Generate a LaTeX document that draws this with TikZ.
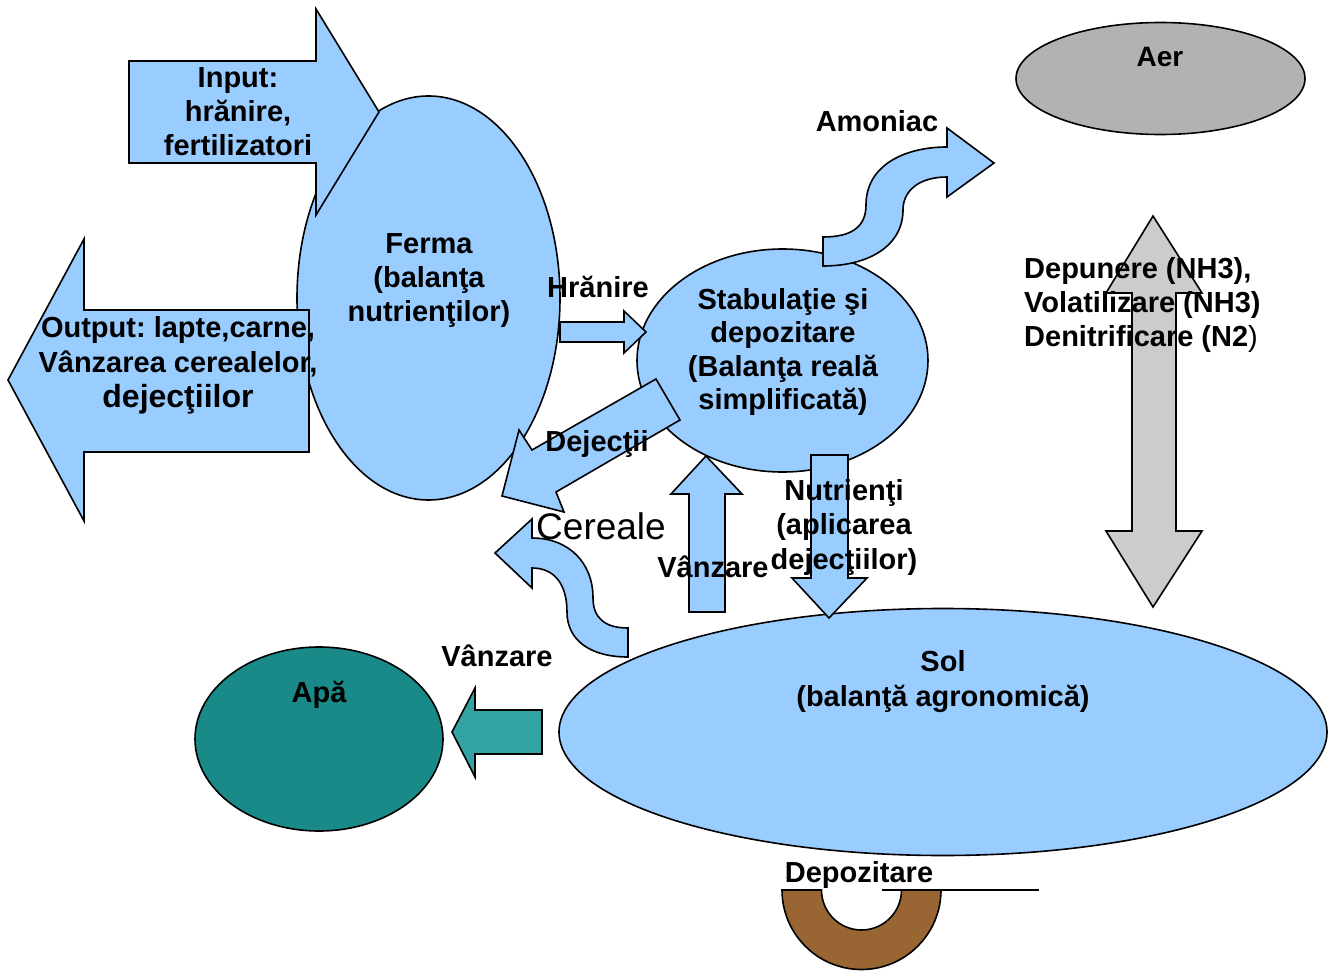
\documentclass[tikz,border=0pt]{standalone}
\usepackage{fontspec}
\setmainfont{Liberation Sans}
\usetikzlibrary{shapes.geometric}
\definecolor{lblue}{HTML}{99CCFF}
\definecolor{aergray}{HTML}{B2B2B2}
\definecolor{arrgray}{HTML}{CCCCCC}
\definecolor{apateal}{HTML}{198A88}
\definecolor{arrteal}{HTML}{33A3A3}
\definecolor{soilbrown}{HTML}{996633}
\frenchspacing
\begin{document}
\begin{tikzpicture}[x=1pt,y=-1pt,
  shapeline/.style={draw=black, line width=1.6pt, line join=miter},
  blob/.style={ellipse, shapeline, inner sep=0pt, outer sep=0pt},
  blockarrow/.style={shapeline, fill=lblue},
  lbl/.style={inner sep=0pt, align=center, anchor=north, font=\fontsize{29}{34}\selectfont\bfseries},
]
\fill[white] (0,0) rectangle (1334,971);
\useasboundingbox (0,0) rectangle (1334,971);

% ellipses
\node[blob, fill=lblue, minimum width=263pt, minimum height=404pt] (ferma) at (428.5,298) {};
\draw[blockarrow] (129,61) -- (316,61) -- (316,9) -- (379,112) -- (316,215) -- (316,163) -- (129,163) -- cycle;
\draw[blockarrow] (309,310) -- (84,310) -- (84,239) -- (8,380) -- (84,521) -- (84,452) -- (309,452) -- cycle;
\node[blob, fill=lblue, minimum width=291pt, minimum height=223pt] (stab) at (782.5,360.5) {};
\node[blob, fill=aergray, minimum width=289pt, minimum height=112pt] (aer) at (1160.5,78.5) {};
\node[blob, fill=lblue, minimum width=768pt, minimum height=247pt] (sol) at (943,732) {};
\node[blob, fill=apateal, minimum width=248pt, minimum height=184pt] (apa) at (319,739) {};

% block arrows
\draw[blockarrow] (560,322) -- (624,322) -- (624,311) -- (646,332) -- (624,353) -- (624,342) -- (560,342) -- cycle;
\draw[blockarrow] (656,379) -- (532,450) -- (519,430) -- (502,496) -- (564,512) -- (556,492) -- (680,420) -- cycle;
\draw[blockarrow] (823,237) .. controls (850,237) and (866,228) .. (866,205)
  .. controls (866,165) and (905,147) .. (947,147) -- (947,128) -- (994,163) -- (947,197) -- (947,177)
  .. controls (920,177) and (903,190) .. (903,210)
  .. controls (903,245) and (870,266) .. (823,266) -- cycle;
\draw[blockarrow] (689,612) -- (689,494) -- (671,494) -- (706,456) -- (742,494) -- (725,494) -- (725,612) -- cycle;
\draw[blockarrow] (811,455) -- (848,455) -- (848,578) -- (867,578) -- (829,618) -- (792,578) -- (811,578) -- cycle;
\draw[blockarrow] (532,538) .. controls (568,538) and (593,562) .. (593,598)
  .. controls (593,618) and (605,628) .. (628,628) -- (628,657)
  .. controls (590,657) and (567,640) .. (567,612)
  .. controls (567,585) and (555,568) .. (532,568) -- (532,588) -- (495,553) -- (532,519) -- cycle;
\draw[shapeline, fill=arrteal] (542,710) -- (475,710) -- (475,688) -- (452,732) -- (475,777) -- (475,754) -- (542,754) -- cycle;
\draw[shapeline, fill=arrgray] (1132,293) -- (1106,293) -- (1153,216) -- (1202,293) -- (1176,293) -- (1176,531) -- (1202,531) -- (1153,607) -- (1106,531) -- (1132,531) -- cycle;

% storage ring
\draw[shapeline, fill=soilbrown] (782,890) arc[start angle=180, end angle=0, radius=79.5] -- (901.5,890) arc[start angle=0, end angle=180, radius=40] -- cycle;
\coordinate (lineA) at (882,890);
\coordinate (lineB) at (1039,890);
\draw[line width=1.6pt] (lineA) -- (lineB);

% texts
\node[lbl] (tinput) at (238,67.5) {Input:\\hrănire,\\fertilizatori};
\node[lbl, font=\fontsize{29}{35}\selectfont\bfseries] (toutput) at (178,316) {Output: lapte,carne,\\Vânzarea cerealelor,\\{\fontsize{32}{35}\selectfont dejecţiilor}};
\node[lbl] (tferma) at (429,233) {Ferma\\(balanţa\\nutrienţilor)};
\node[lbl, font=\fontsize{29}{33.5}\selectfont\bfseries] (tstab) at (783,288) {Stabulaţie şi\\depozitare\\(Balanţa reală\\simplificată)};
\node[lbl] (tamoniac) at (877,110) {Amoniac};
\node[lbl] (thranire) at (598,275.5) {Hrănire};
\node[lbl] (tdejectii) at (597,430) {Dejecţii};
\node[lbl, font=\fontsize{37}{44}\selectfont] (tcereale) at (601,512) {Cereale};
\node[lbl] (tvanzare1) at (713,556) {Vânzare};
\node[lbl, font=\fontsize{29}{34.5}\selectfont\bfseries] (tnutr) at (844,479) {Nutrienţi\\(aplicarea\\dejecţiilor)};
\node[lbl, font=\fontsize{28}{34}\selectfont\bfseries] (taer) at (1160,47.5) {Aer};
\node[lbl, align=left, anchor=north west, font=\fontsize{29}{34}\selectfont\bfseries] (tdep) at (1024,257.5) {Depunere (NH3),\\Volatilizare (NH3)\\Denitrificare (N2{\mdseries )}};
\node[lbl, font=\fontsize{29}{35}\selectfont\bfseries] (tsol) at (943,650) {Sol\\(balanţă agronomică)};
\node[lbl] (tapa) at (319,681) {Apă};
\node[lbl] (tvanzare2) at (497,645) {Vânzare};
\node[lbl] (tdepoz) at (859,861.5) {Depozitare};
\end{tikzpicture}
\end{document}
